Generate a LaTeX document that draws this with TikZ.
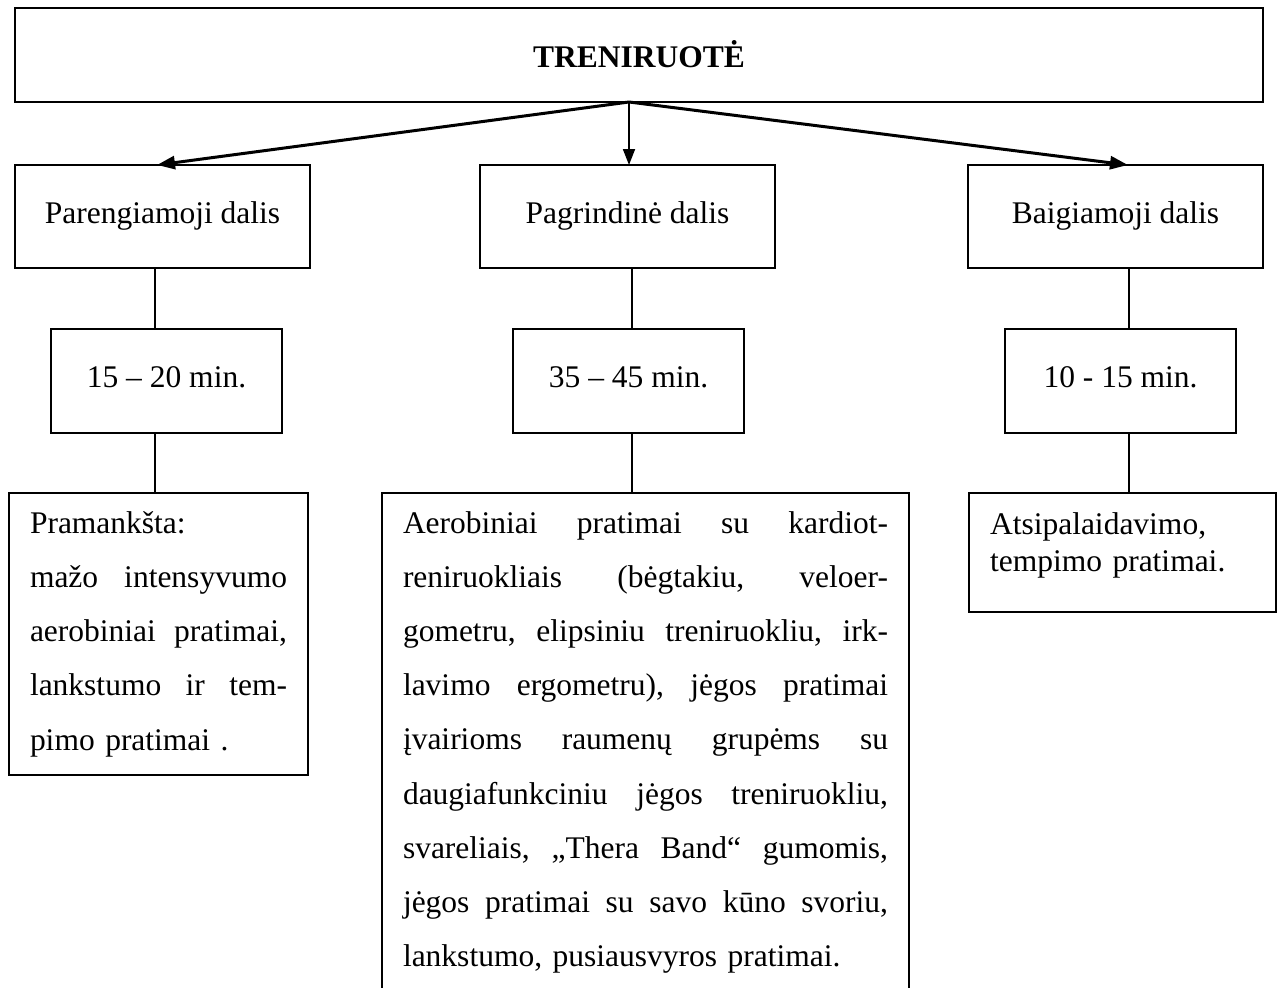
\documentclass[tikz,border=0pt]{standalone}
\usepackage{fontspec}
\setmainfont{Liberation Serif}
\usetikzlibrary{arrows.meta,calc}
\newcommand{\jline}[2]{\leavevmode\hbox to #1{#2}}
\begin{document}
\begin{tikzpicture}[x=1pt,y=-1pt,
  box/.style={draw,line width=2pt,inner sep=0pt,outer sep=0pt,font=\fontsize{31.5}{38}\selectfont},
  title/.style={box,minimum width=1248pt,minimum height=94pt,text height=26pt,text depth=2pt,font=\fontsize{31.5}{38}\selectfont\bfseries},
  hdr/.style={box,minimum width=295pt,minimum height=103pt,text height=22pt,text depth=9pt},
  dur/.style={box,minimum width=231pt,minimum height=104pt,text height=22pt,text depth=10pt},
  frame/.style={draw,line width=2pt,inner sep=0pt,outer sep=0pt},
  body/.style={inner sep=0pt,outer sep=0pt,anchor=north west,align=left},
  arr/.style={line width=3pt,-{Triangle[length=18pt,width=13pt]}},
  arrm/.style={line width=1.8pt,-{Triangle[length=16pt,width=12pt]}},
  link/.style={line width=1.8pt}]
\fill[white] (0,0) rectangle (1283,988);
\useasboundingbox (0,0) rectangle (1283,988);

% top
\node[title] (top) at (639,55) {TRENIRUOTĖ};

% row 2
\node[hdr] (p1) at (162.5,216.5) {Parengiamoji dalis};
\node[hdr] (p2) at (627.5,216.5) {Pagrindinė dalis};
\node[hdr] (p3) at (1115.5,216.5) {Baigiamoji dalis};

% row 3
\node[dur] (d1) at (166.5,381) {15 – 20 min.};
\node[dur] (d2) at (628.5,381) {35 – 45 min.};
\node[dur] (d3) at (1120.5,381) {10 - 15 min.};

% row 4 frames
\node[frame,minimum width=299pt,minimum height=282pt] (b1) at (158.5,634) {};
\node[inner sep=0pt,outer sep=0pt,minimum width=527pt,minimum height=495pt] (b2) at (645.5,740.5) {};
\draw[line width=2pt] (b2.south west) -- (b2.north west) -- (b2.north east) -- (b2.south east);
\node[frame,minimum width=307pt,minimum height=119pt] (b3) at (1122.5,552.5) {};

% row 4 texts
\node[body,text width=257pt,font=\fontsize{31.5}{54.3}\selectfont] (b1t) at (30,508) {%
\rule{0pt}{25pt}Pramankšta:\\
\jline{257pt}{mažo\hfill intensyvumo}\\
\jline{257pt}{aerobiniai\hfill pratimai,}\\
\jline{257pt}{lankstumo\hfill ir\hfill tem-}\\
pimo pratimai .};

\node[body,text width=485pt,font=\fontsize{31.5}{54.2}\selectfont] (b2t) at (403,508) {%
\rule{0pt}{25pt}\jline{485pt}{Aerobiniai\hfill pratimai\hfill su\hfill kardiot-}\\
\jline{485pt}{reniruokliais\hfill (bėgtakiu,\hfill veloer-}\\
\jline{485pt}{gometru,\hfill elipsiniu\hfill treniruokliu,\hfill irk-}\\
\jline{485pt}{lavimo\hfill ergometru),\hfill jėgos\hfill pratimai}\\
\jline{485pt}{įvairioms\hfill raumenų\hfill grupėms\hfill su}\\
\jline{485pt}{daugiafunkciniu\hfill jėgos\hfill treniruokliu,}\\
\jline{485pt}{svareliais,\hfill „Thera\hfill Band“\hfill gumomis,}\\
\jline{485pt}{jėgos\hfill pratimai\hfill su\hfill savo\hfill kūno\hfill svoriu,}\\
lankstumo, pusiausvyros pratimai.};

\node[body,text width=270pt,font=\fontsize{31.5}{37}\selectfont] (b3t) at (990,509) {%
\rule{0pt}{25pt}Atsipalaidavimo,\\
tempimo pratimai.};

% arrows
\coordinate (src) at (629,102);
\draw[arr] (src) -- ($(p1.north)+(-5.5,0)$);
\draw[arrm] (src) -- (src |- p2.north);
\draw[arr] (src) -- ($(p3.north)+(12.5,0)$);

% vertical links
\coordinate (lx) at (155,0);
\coordinate (mx) at (632,0);
\coordinate (rx) at (1129,0);
\draw[link] (lx |- p1.south) -- (lx |- d1.north);
\draw[link] (lx |- d1.south) -- (lx |- b1.north);
\draw[link] (mx |- p2.south) -- (mx |- d2.north);
\draw[link] (mx |- d2.south) -- (mx |- b2.north);
\draw[link] (rx |- p3.south) -- (rx |- d3.north);
\draw[link] (rx |- d3.south) -- (rx |- b3.north);
\end{tikzpicture}
\end{document}
